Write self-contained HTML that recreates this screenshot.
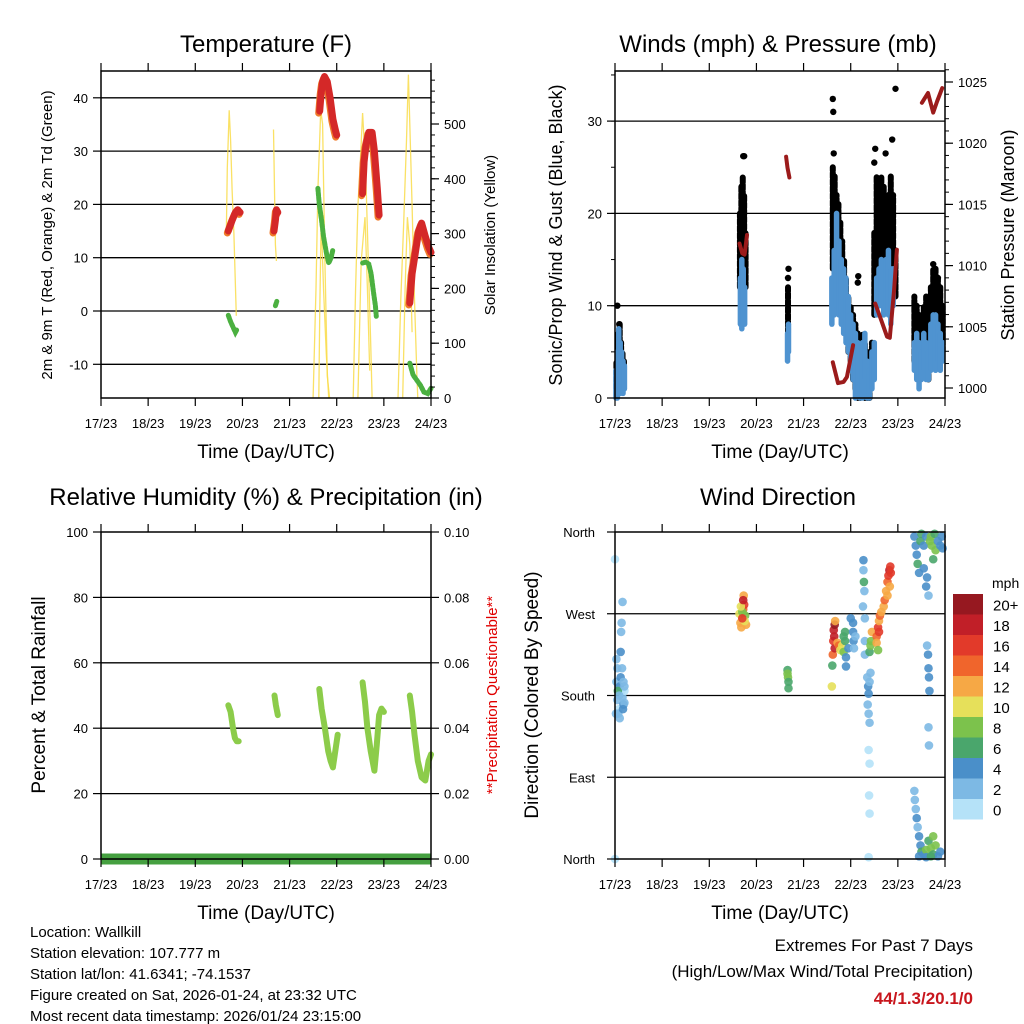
<!DOCTYPE html>
<html><head><meta charset="utf-8"><style>
html,body{margin:0;padding:0;background:#fff;}
svg{display:block;font-family:"Liberation Sans",sans-serif;}
</style></head><body>
<svg id="root" width="1024" height="1024" viewBox="0 0 1024 1024" xmlns="http://www.w3.org/2000/svg"></svg>
<script>
// ---------- DATA ----------
const dayLabels = ["17/23","18/23","19/23","20/23","21/23","22/23","23/23","24/23"];
const tempRed = [
 [[2.70,15],[2.78,17],[2.85,18.5],[2.9,19],[2.95,18.5]],
 [[3.67,15],[3.7,17],[3.72,19],[3.75,18.5]],
 [[4.64,37.5],[4.67,41],[4.7,43],[4.74,44],[4.8,43],[4.86,40],[4.92,36],[4.97,34],[5.0,33]],
 [[5.55,22],[5.58,28],[5.62,31],[5.68,33.5],[5.75,33.5],[5.8,30],[5.86,23],[5.9,18]],
 [[6.55,1.5],[6.6,7],[6.67,11],[6.74,15],[6.8,16.5],[6.88,14],[6.95,12],[7.0,11]]
];
const tempGreen = [
 [[2.70,-0.8],[2.75,-2],[2.8,-3],[2.85,-4],[2.88,-3.5]],
 [[3.7,1],[3.73,1.8]],
 [[4.6,23],[4.63,20],[4.68,17],[4.72,14],[4.78,11],[4.83,9],[4.88,10],[4.92,11.5]],
 [[5.55,9],[5.62,9.2],[5.68,8.8],[5.73,7],[5.78,3.5],[5.82,1],[5.84,-1]],
 [[6.55,-9.8],[6.62,-12],[6.7,-13],[6.78,-14],[6.85,-15.2],[6.93,-15.5],[7.0,-14.5]]
];
const solar = [
 [[2.66,310],[2.68,420],[2.72,525],[2.75,470],[2.78,380],[2.82,300],[2.87,150]],
 [[3.66,490],[3.68,380],[3.7,280],[3.72,250]],
 [[4.5,0],[4.56,200],[4.6,380],[4.63,450],[4.66,525],[4.7,500],[4.72,400],[4.75,250],[4.78,130],[4.8,40],[4.85,0]],
 [[4.62,0],[4.64,150],[4.67,330],[4.72,200],[4.78,80],[4.83,0]],
 [[5.35,0],[5.4,200],[5.45,350],[5.5,430],[5.55,520],[5.58,470],[5.62,400],[5.67,250],[5.72,100],[5.75,0]],
 [[5.45,0],[5.52,250],[5.6,330],[5.65,200],[5.7,50]],
 [[6.3,0],[6.36,180],[6.42,320],[6.48,470],[6.52,590],[6.55,500],[6.6,350],[6.65,180],[6.7,40],[6.72,0]],
 [[6.4,0],[6.45,200],[6.5,330],[6.55,280],[6.6,120]]
];
const sonicBands = [
 [0.02,0,3],[0.05,0,5],[0.08,1,7.5],[0.11,0.5,6],[0.14,1,5],[0.17,0.5,4],[0.2,1,3.5],
 [2.66,8,13],[2.69,7.5,15],[2.72,8,14],[2.75,8,12],
 [3.66,4,7],[3.68,5,8],
 [4.6,8,13],[4.65,9,16],[4.7,10,20],[4.75,9,17],[4.8,8,15],[4.85,7,14],[4.9,6,13],[4.95,5,11],[5.0,3,9],[5.05,2,8],[5.1,0,7],[5.15,1,6],[5.2,0,5],[5.25,0,6],[5.3,2,7],[5.35,0,4],[5.4,0,3],[5.45,1,5],[5.5,2,6],
 [5.55,9,13],[5.6,10,14],[5.65,10,15],[5.7,9,14],[5.75,10,15],[5.8,9,16],[5.85,8,14],[5.9,10,14],
 [6.35,3,6],[6.4,2,7],[6.45,1,6],[6.5,2,5],[6.55,3,7],[6.6,2,6],[6.65,2,5],[6.7,3,8],[6.75,4,9],[6.8,3,9],[6.85,4,8],[6.9,3,7],[6.95,4,6]
];
const gustBands = [
 [0.03,1,4],[0.07,2,7],[0.1,3,8],[0.13,2,6],[0.16,2,5],[0.19,2,4],
 [2.65,12,20],[2.68,14,23],[2.71,15,24],[2.74,13,22],[2.77,12,18],
 [3.67,7,12],
 [4.62,14,25],[4.66,16,24],[4.7,15,22],[4.74,13,21],[4.78,11,19],[4.82,10,17],[4.86,9,15],[4.9,7,13],[4.95,5,11],[5.0,4,10],[5.05,2,9],[5.1,1,8],[5.15,0,7],[5.2,0,5],[5.25,1,7],[5.3,0,6],[5.35,0,5],[5.4,0,4],[5.45,2,6],
 [5.5,9,18],[5.55,12,24],[5.6,14,23],[5.65,15,24],[5.7,14,23],[5.75,13,22],[5.8,12,22],[5.85,13,24],[5.9,12,22],[5.95,11,16],
 [6.35,4,11],[6.4,3,10],[6.45,2,9],[6.5,3,8],[6.55,4,10],[6.6,3,11],[6.65,2,9],[6.7,4,12],[6.75,5,14],[6.8,6,14],[6.85,5,13],[6.9,4,12],[6.95,5,10]
];
const gustDots = [
 [0.05,10],[0.09,8],[2.72,26.2],[2.74,26.2],[2.7,23],[3.67,13],[3.68,14],[4.62,32.4],[4.63,31],[4.64,26.5],[4.65,24],[5.15,12.5],[5.16,13.2],[5.5,25.5],[5.52,27],[5.74,26.5],[5.88,28],[5.82,21.5],[5.95,33.5],[6.75,14.5],[6.85,13]
];
const pressure = [
 [[2.64,1011.8],[2.7,1011],[2.75,1010.9],[2.8,1012.5]],
 [[3.63,1018.9],[3.66,1018],[3.7,1017.2]],
 [[4.62,1002.1],[4.73,1000.4],[4.85,1000.5],[4.92,1000.9],[5.05,1003.5]],
 [[5.52,1006.9],[5.65,1005.5],[5.77,1004.2],[5.83,1004.1],[5.92,1008],[5.98,1011.3]],
 [[6.51,1023.3],[6.64,1024.1],[6.75,1022.5],[6.83,1023.4],[6.94,1024.5]]
];
const rh = [
 [[2.7,47],[2.75,45],[2.8,40],[2.84,37],[2.88,36],[2.92,36]],
 [[3.68,50],[3.71,47],[3.75,44]],
 [[4.63,52],[4.68,46],[4.75,40],[4.82,33],[4.87,30],[4.92,28],[4.97,33],[5.02,38]],
 [[5.55,54],[5.6,48],[5.65,40],[5.72,33],[5.8,27],[5.85,35],[5.9,44],[5.95,46],[6.0,45]],
 [[6.55,50],[6.6,45],[6.65,38],[6.72,30],[6.8,25],[6.88,24],[6.95,30],[7.0,32]]
];
const precip = [[0,0],[7,0]];
const windDir = [
 [0.0,330,1],[0.03,195,2],[0.05,175,2],[0.08,165,1.5],[0.1,190,4],[0.12,200,4],[0.14,185,3],[0.16,178,2],[0.18,170,4],[0.2,185,1.5],[0.06,185,6],[0.05,210,2],[0.12,228,4],[0.14,260,2],[0.13,250,2],[0.09,180,2],[0.07,160,2],[0.18,195,2],[0.2,172,2],[0.15,210,2],[0.1,155,2],[0.03,220,2],[0.0,0,1],[0.16,283,2],[0.02,160,2],[0.2,190,2],[0.17,165,4],
 [2.64,270,10],[2.66,260,12],[2.68,255,12],[2.7,265,11],[2.72,275,14],[2.74,280,16],[2.76,268,9],[2.78,258,12],[2.73,290,12],[2.75,262,10],[2.7,272,8],[2.67,278,10],[2.72,285,18],[2.7,265,16],
 [3.66,208,6],[3.67,200,8],[3.68,195,7],[3.68,188,6],[3.66,204,8],
 [4.6,190,10],[4.61,213,7],[4.62,225,15],[4.63,240,16],[4.64,252,18],[4.66,258,20],[4.65,245,18],[4.67,262,12],[4.66,232,18],[4.72,238,12],[4.75,235,14],[4.78,230,10],[4.82,235,10],[4.85,228,8],[4.85,245,6],[4.88,240,6],[4.88,250,7],[4.9,222,4],[4.9,212,4],[4.95,232,4],
 [5.05,260,4],[5.05,250,4],[5.06,240,4],[5.07,232,2],[5.0,265,4],[5.1,245,2],
 [5.27,329,4],[5.27,318,2],[5.28,305,6],[5.29,295,2],[5.26,278,2],[5.3,265,2],[5.3,240,2],[5.3,225,2],
 [5.35,200,2],[5.37,190,4],[5.38,182,4],[5.36,170,2],[5.38,160,2],[5.4,150,2],[5.38,120,0],[5.4,105,0],[5.39,70,0],[5.4,50,0],[5.38,2,0],[5.4,195,2],[5.42,205,2],
 [5.4,228,6],[5.42,235,8],[5.43,240,8],[5.45,250,12],
 [5.55,245,14],[5.58,255,16],[5.6,262,12],[5.62,268,14],[5.65,272,12],[5.7,278,12],[5.72,285,14],[5.75,295,12],[5.78,305,14],[5.8,312,16],[5.82,318,18],[5.84,322,16],[5.85,315,16],[5.83,300,12],[5.78,290,12],[5.55,238,12],[5.6,250,16],[5.58,230,8],
 [6.35,355,4],[6.38,345,4],[6.4,335,4],[6.42,325,6],[6.45,315,4],[6.48,350,6],[6.5,358,6],[6.55,345,4],[6.6,355,4],[6.62,310,4],[6.65,290,2],[6.68,350,8],[6.7,355,8],[6.72,345,8],[6.75,330,6],[6.78,358,6],[6.8,340,8],[6.85,350,4],[6.9,345,4],[6.95,342,4],[6.93,355,4],[6.55,320,4],[6.6,300,4],
 [6.62,235,2],[6.64,225,4],[6.65,210,4],[6.66,200,4],[6.67,185,4],[6.65,145,2],[6.66,125,2],
 [6.35,75,2],[6.36,65,2],[6.38,55,2],[6.4,45,4],[6.42,35,2],[6.45,25,4],[6.48,15,4],[6.5,8,6],[6.55,5,4],[6.6,10,8],[6.65,20,6],[6.7,12,8],[6.75,5,6],[6.8,15,8],[6.85,3,4],[6.9,8,4],[6.6,2,4],[6.45,3,4],[6.75,25,8],[6.7,3,6]
];
const speedColors = ["#b5e2f8","#7db9e4","#4a8fc9","#4aa66c","#7cc24c","#e6e05a","#f6a845","#f0652c","#e23a2a","#c11f28","#961820"];
const legendLabels = ["0","2","4","6","8","10","12","14","16","18","20+"];
const tempTicks = [-10,0,10,20,30,40];
const solarTicks = [0,100,200,300,400,500];
const windTicks = [0,10,20,30];
const presTicks = [1000,1005,1010,1015,1020,1025];
const rhTicks = [0,20,40,60,80,100];
const rainTicks = ["0.00","0.02","0.04","0.06","0.08","0.10"];
const dirTicks = ["North","East","South","West","North"];

// ---------- HELPERS ----------
const NS="http://www.w3.org/2000/svg";
const root=document.getElementById('root');
function mk(tag,attrs,parent){const e=document.createElementNS(NS,tag);for(const k in attrs)e.setAttribute(k,attrs[k]);(parent||root).appendChild(e);return e;}
function txt(s,x,y,size,anchor,parent,extra){const e=mk('text',Object.assign({x:x,y:y,'font-size':size,'text-anchor':anchor||'middle',fill:'#000'},extra||{}),parent);e.textContent=s;return e;}
function lin(d0,d1,p0,p1){return v=>p0+(v-d0)*(p1-p0)/(d1-d0);}
function poly(pts,xs,ys,attrs,parent){return mk('polyline',Object.assign({points:pts.map(p=>xs(p[0]).toFixed(1)+','+ys(p[1]).toFixed(1)).join(' '),fill:'none'},attrs),parent);}

function panel(name,x0,x1,y0,y1){
  const g=mk('g',{});
  
  
  const xs=lin(0,7,x0,x1);
  return {g,xs,x0,x1,y0,y1};
}
function frame(P,gridYs){
  const gg=mk('g',{},P.g);
  
  
  gridYs.forEach(y=>mk('line',{x1:P.x0,x2:P.x1,y1:y,y2:y,stroke:'#000','stroke-width':1.3},gg));
}
function border(P){
  const b=mk('rect',{x:P.x0,y:P.y0,width:P.x1-P.x0,height:P.y1-P.y0,fill:'none',stroke:'#000','stroke-width':1.5},P.g);
  
  
  const xa=mk('g',{},P.g);
  
  
  dayLabels.forEach((l,i)=>{const x=P.xs(i);
    mk('line',{x1:x,x2:x,y1:P.y0-8,y2:P.y0,stroke:'#000','stroke-width':1.2},xa);
    mk('line',{x1:x,x2:x,y1:P.y1,y2:P.y1+8,stroke:'#000','stroke-width':1.2},xa);
    const t=txt(l,x,P.y1+30,13,'middle',xa);
    
    
  });
  const xt=txt('Time (Day/UTC)',(P.x0+P.x1)/2,P.y1+60,19,'middle',P.g);
  
  
}
function leftAxis(P,vals,labels,ys,minor){
  const a=mk('g',{},P.g);
  
  
  if(minor) minor.forEach(v=>mk('line',{x1:P.x0-4,x2:P.x0,y1:ys(v),y2:ys(v),stroke:'#000'},a));
  vals.forEach((v,i)=>{mk('line',{x1:P.x0-8,x2:P.x0,y1:ys(v),y2:ys(v),stroke:'#000','stroke-width':1.2},a);
    const t=txt(labels[i],P.x0-13,ys(v)+5,13,'end',a);
    
    });
}
function rightAxis(P,vals,labels,ys,minor){
  const a=mk('g',{},P.g);
  
  
  if(minor) minor.forEach(v=>mk('line',{x1:P.x1,x2:P.x1+4,y1:ys(v),y2:ys(v),stroke:'#000'},a));
  vals.forEach((v,i)=>{mk('line',{x1:P.x1,x2:P.x1+8,y1:ys(v),y2:ys(v),stroke:'#000','stroke-width':1.2},a);
    const t=txt(labels[i],P.x1+13,ys(v)+5,13,'start',a);
    
    });
}
function vtitle(s,x,y,size,name,color){
  const t=txt(s,x,y,size,'middle',root,{transform:'rotate(-90 '+x+' '+y+')',fill:color||'#000'});
  
  
  return t;
}
function title(s,x,y,name){const t=txt(s,x,y,24,'middle');
  
  }
function range(a,b,s){const r=[];for(let v=a;v<=b+1e-9;v+=s)r.push(v);return r;}

// ---------- TEMPERATURE ----------
{
 const P=panel('temperature-panel',101,431,71,398);
 const yT=lin(0,-10,311,364.3), yS=lin(0,500,398,124);
 frame(P,tempTicks.map(yT));
 const sg=mk('g',{},P.g);
 
 
 solar.forEach(s=>poly(s,P.xs,yS,{stroke:'#f9dc4a','stroke-width':1.3,opacity:0.85},sg));
 const gg=mk('g',{},P.g);
 
 
 tempGreen.forEach(s=>poly(s,P.xs,yT,{stroke:'#4bb040','stroke-width':5,'stroke-dasharray':'3 1.5','stroke-linecap':'round'},gg));
 const rg=mk('g',{},P.g);
 
 
 tempRed.forEach(s=>poly(s,P.xs,yT,{stroke:'#f07a2a','stroke-width':7,'stroke-linecap':'round','stroke-linejoin':'round','transform':'translate(-1,2)'},rg));
 tempRed.forEach(s=>poly(s,P.xs,yT,{stroke:'#d42828','stroke-width':7,'stroke-linecap':'round','stroke-linejoin':'round'},rg));
 border(P);
 leftAxis(P,tempTicks,tempTicks.map(String),yT,null);
 rightAxis(P,solarTicks,solarTicks.map(String),yS,range(0,580,20));
 title('Temperature (F)',266,52,'temperature-title');
 vtitle('2m & 9m T (Red, Orange) & 2m Td (Green)',52,235,15,'temperature-y-title');
 vtitle('Solar Insolation (Yellow)',495,235,15,'solar-y-title');
}
// ---------- WINDS ----------
{
 const P=panel('winds-panel',615,945,71,398);
 const yW=lin(0,10,398,305.7), yP=lin(1000,1025,388,82);
 frame(P,[10,20,30].map(yW));
 const bk=mk('g',{},P.g);
 
 
 gustBands.forEach(b=>mk('line',{x1:P.xs(b[0]),x2:P.xs(b[0]),y1:yW(b[1]),y2:yW(b[2]),stroke:'#000','stroke-width':6,'stroke-linecap':'round','stroke-dasharray':'5 2'},bk));
 gustDots.forEach(d=>mk('circle',{cx:P.xs(d[0]),cy:yW(d[1]),r:3.2,fill:'#000'},bk));
 const bl=mk('g',{},P.g);
 
 
 sonicBands.forEach(b=>mk('line',{x1:P.xs(b[0]),x2:P.xs(b[0]),y1:yW(b[1]),y2:yW(b[2]),stroke:'#4f93d0','stroke-width':5.5,'stroke-linecap':'round'},bl));
 const pr=mk('g',{},P.g);
 
 
 pressure.forEach(s=>poly(s,P.xs,yP,{stroke:'#9b1b1b','stroke-width':4,'stroke-linecap':'round','stroke-linejoin':'round'},pr));
 border(P);
 leftAxis(P,windTicks,windTicks.map(String),yW,range(0,35,5));
 rightAxis(P,presTicks,presTicks.map(String),yP,range(1000,1026,1));
 title('Winds (mph) & Pressure (mb)',778,52,'winds-title');
 vtitle('Sonic/Prop Wind & Gust (Blue, Black)',562,235,18,'winds-y-title');
 vtitle('Station Pressure (Maroon)',1014,235,18,'pressure-y-title');
}
// ---------- RH ----------
{
 const P=panel('humidity-panel',101,431,532,859);
 const yR=lin(0,100,859,532);
 frame(P,[20,40,60,80].map(yR));
 const pg=mk('g',{},P.g);
 
 
 poly(precip,P.xs,yR,{stroke:'#45a040','stroke-width':11},pg);
 const rg=mk('g',{},P.g);
 
 
 rh.forEach(s=>poly(s,P.xs,yR,{stroke:'#8ccc4a','stroke-width':6,'stroke-linecap':'round','stroke-linejoin':'round'},rg));
 border(P);
 leftAxis(P,rhTicks,rhTicks.map(String),yR,null);
 rightAxis(P,rhTicks,rainTicks,yR,null);
 title('Relative Humidity (%) & Precipitation (in)',266,505,'humidity-title');
 vtitle('Percent & Total Rainfall',45,695,19,'humidity-y-title');
 vtitle('**Precipitation Questionable**',497,695,15,'precip-warning','#e00000');
}
// ---------- WIND DIRECTION ----------
{
 const P=panel('wind-direction-panel',615,945,532,859);
 const yD=lin(0,360,859,532);
 frame(P,[90,180,270].map(yD));
 const dg=mk('g',{},P.g);
 
 
 windDir.forEach(d=>{const ci=Math.min(10,Math.floor(d[2]/2));
   const c=mk('circle',{cx:P.xs(d[0]),cy:yD(d[1]),r:4.3,fill:speedColors[ci],opacity:0.9},dg);
   
   });
 border(P);
 const a=mk('g',{},P.g);
 
 
 dirTicks.forEach((l,i)=>{const y=yD(i*90);
   mk('line',{x1:P.x0-8,x2:P.x0,y1:y,y2:y,stroke:'#000','stroke-width':1.2},a);
   const t=txt(l,P.x0-20,y+5,13,'end',a);
   
   });
 title('Wind Direction',778,505,'wind-direction-title');
 vtitle('Direction (Colored By Speed)',538,695,19,'direction-y-title');
 const lg=mk('g',{});
 
 
 const mph=txt('mph',992,588,14,'start',lg);
 
 
 const top=594,h=20.5;
 legendLabels.slice().reverse().forEach((l,i)=>{
   const ci=10-i;
   const r=mk('rect',{x:953,y:top+i*h,width:30,height:h,fill:speedColors[ci]},lg);
   
   
   const t=txt(l,993,top+i*h+h/2+6,15,'start',lg);
   
   });
}
// ---------- FOOTER ----------
const info=["Location: Wallkill","Station elevation: 107.777 m","Station lat/lon: 41.6341; -74.1537","Figure created on Sat, 2026-01-24, at 23:32 UTC","Most recent data timestamp: 2026/01/24 23:15:00"];
info.forEach((s,i)=>{const t=txt(s,30,937+i*21,15,'start');
  
  });
const e1=txt('Extremes For Past 7 Days',973,951,17,'end');


const e2=txt('(High/Low/Max Wind/Total Precipitation)',973,977,17,'end');


const e3=txt('44/1.3/20.1/0',973,1004,17,'end',root,{fill:'#c8161d','font-weight':'bold'});


</script>
</body></html>
